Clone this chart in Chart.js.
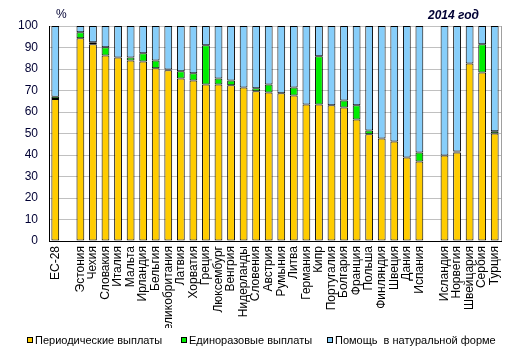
<!DOCTYPE html>
<html>
<head>
<meta charset="utf-8">
<script src="https://cdn.jsdelivr.net/npm/chart.js@4"></script>
<style>
html,body{margin:0;padding:0;background:#fff;}
#wrap{width:515px;height:359px;position:relative;}
</style>
</head>
<body>
<div id="wrap"><canvas id="c" width="515" height="359"></canvas></div>
<script>
const categories = ['ЕС-28','','Эстония','Чехия','Словакия','Италия','Мальта','Ирландия','Бельгия','Великобритания','Латвия','Хорватия','Греция','Люксембург','Венгрия','Нидерланды','Словения','Австрия','Румыния','Литва','Германия','Кипр','Португалия','Болгария','Франция','Польша','Финляндия','Швеция','Дания','Испания','','Исландия','Норвегия','Швейцария','Сербия','Турция'];
const periodic = [66.0,null,94.3,91.5,86.3,85.4,84.0,83.5,80.3,79.4,75.6,74.7,72.8,72.8,72.4,71.4,69.6,69.1,68.7,67.7,63.5,63.5,63.1,62.1,56.5,49.6,47.7,46.3,38.8,37.0,null,39.8,41.2,82.6,78.4,50.0];
const lumpSum = [1.1,null,2.8,0.9,3.8,0,1.4,3.8,3.7,0.4,3.3,3.3,18.2,2.8,2.3,0,1.4,3.7,0,3.7,0,22.4,0,3.3,6.6,1.8,0,0,0,4.2,null,0,0.4,0,13.1,1.0];
const inKind = [32.9,null,2.9,7.6,9.9,14.6,14.6,12.7,16.0,20.2,21.1,22.0,9.0,24.4,25.3,28.6,29.0,27.2,31.3,28.6,36.5,14.1,36.9,34.6,36.9,48.6,52.3,53.7,61.2,58.8,null,60.2,58.4,17.4,8.5,49.0];
const seriesNames = ['Периодические выплаты','Единоразовые выплаты','Помощь  в натуральной форме'];
const yTicks = [0,10,20,30,40,50,60,70,80,90,100];
const unitLabel = '%';
const yearLabel = '2014 год';

const colors = ['#FFCC00','#00EE00','#87CEFA'];
const FONT = 'Arial, "Liberation Sans", sans-serif';

const extras = {
  id:'extras',
  beforeDraw(chart){
    const ctx = chart.ctx;
    ctx.save();
    ctx.beginPath();
    ctx.rect(0,0,515,328);
    ctx.clip();
  },
  afterDraw(chart){
    const ctx = chart.ctx;
    ctx.restore();
    const ca = chart.chartArea;
    ctx.save();
    ctx.strokeStyle = '#a0a0a0';
    ctx.lineWidth = 1;
    ctx.beginPath();
    ctx.moveTo(Math.round(ca.right)+0.5, ca.top);
    ctx.lineTo(Math.round(ca.right)+0.5, ca.bottom);
    ctx.stroke();
    ctx.fillStyle = '#000033';
    ctx.textBaseline = 'alphabetic';
    ctx.font = '12px ' + FONT;
    ctx.textAlign = 'left';
    ctx.fillText(unitLabel, 56, 18);
    ctx.font = 'italic bold 12px ' + FONT;
    ctx.fillText(yearLabel, 428, 19);
    const lx = [27, 181, 327];
    ctx.font = '11px ' + FONT;
    ctx.textBaseline = 'middle';
    for (let i=0;i<3;i++){
      ctx.fillStyle = colors[i];
      ctx.fillRect(lx[i]+0.5, 337.5, 5, 5);
      ctx.strokeStyle = '#000';
      ctx.strokeRect(lx[i]+0.5, 337.5, 5, 5);
      ctx.fillStyle = '#000';
      ctx.fillText(seriesNames[i], lx[i]+8, 341);
    }
    ctx.restore();
  }
};

const dataSets = [periodic, lumpSum, inKind].map((d,i)=>({
  label: seriesNames[i],
  data: d,
  backgroundColor: colors[i],
  borderColor: '#000',
  borderWidth: 1,
  borderSkipped: false,
  inflateAmount: 0,
  barPercentage: 0.62,
  categoryPercentage: 1.0
}));

new Chart(document.getElementById('c'), {
  type: 'bar',
  data: { labels: categories, datasets: dataSets },
  options: {
    responsive: false,
    animation: false,
    events: [],
    layout: { padding: { left: 0, right: 14, top: 26, bottom: 0 } },
    plugins: { legend: { display: false }, tooltip: { enabled: false } },
    scales: {
      x: {
        stacked: true,
        offset: true,
        grid: { display: false, drawTicks: false },
        border: { display: true, color: '#000', width: 1 },
        ticks: {
          autoSkip: false, minRotation: 90, maxRotation: 90, padding: 5,
          color: '#000', font: { family: FONT, size: 12 }
        },
        afterFit(s){ s.height = 118; }
      },
      y: {
        stacked: true,
        min: 0, max: 100,
        afterBuildTicks(s){ s.ticks = yTicks.map(v=>({value:v})); },
        grid: { color: '#c0c0c0', drawTicks: false },
        border: { display: true, color: '#000', width: 1 },
        ticks: { padding: 11, color: '#000033', font: { family: FONT, size: 12 } },
        afterFit(s){ s.width = 49; }
      }
    }
  },
  plugins: [extras]
});
</script>
</body>
</html>
